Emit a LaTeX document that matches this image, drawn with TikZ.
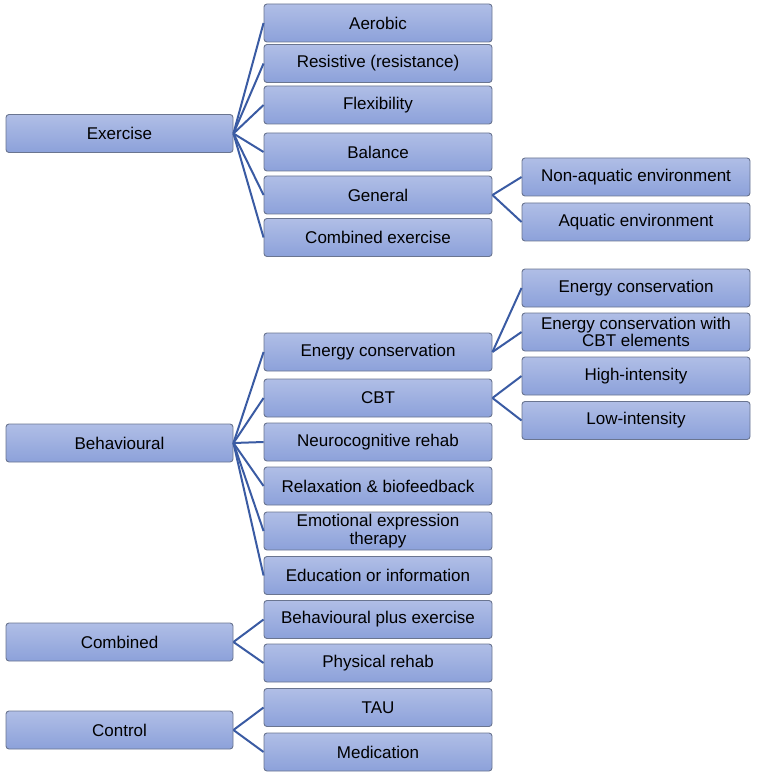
\documentclass[tikz,border=0pt]{standalone}
\usepackage{fontspec}
\setmainfont{Liberation Sans}
\definecolor{boxtop}{HTML}{B0BEE6}
\definecolor{boxbot}{HTML}{8CA1DA}
\definecolor{boxline}{HTML}{6A7590}
\definecolor{connline}{HTML}{3A5BA3}
\tikzset{
  box/.style={draw=boxline, line width=0.9pt, rounded corners=3pt, top color=boxtop, bottom color=boxbot,
    minimum width=228pt, minimum height=38pt, inner sep=0pt, align=center,
    font=\fontsize{17}{17.5}\selectfont, text=black},
  conn/.style={draw=connline, line width=2pt}
}
\begin{document}
\begin{tikzpicture}[x=1pt,y=-1pt]
\useasboundingbox (0,0) rectangle (756,775);
% Exercise
\node[box, minimum width=227pt] (ex) at (119.5,133.5) {Exercise};
\node[box] (aer) at (378,23) {Aerobic};
\node[box] (res) at (378,63.5) {Resistive (resistance)};
\node[box] (flex) at (378,105) {Flexibility};
\node[box] (bal) at (378,152) {Balance};
\node[box] (gen) at (378,195) {General};
\node[box] (comx) at (378,237.5) {Combined exercise};
\node[box] (nonaq) at (636,177) {Non-aquatic environment};
\node[box] (aq) at (636,222) {Aquatic environment};
% Behavioural
\node[box, minimum width=227pt] (beh) at (119.5,443) {Behavioural};
\node[box] (ec) at (378,352) {Energy conservation};
\node[box] (cbt) at (378,398) {CBT};
\node[box] (neuro) at (378,442) {Neurocognitive rehab};
\node[box] (relax) at (378,486) {Relaxation \& biofeedback};
\node[box] (emo) at (378,531) {Emotional expression\\therapy};
\node[box] (edu) at (378,575.5) {Education or information};
\node[box] (ec1) at (636,288) {Energy conservation};
\node[box] (ec2) at (636,332) {Energy conservation with\\CBT elements};
\node[box] (hi) at (636,376) {High-intensity};
\node[box] (lo) at (636,420.5) {Low-intensity};
% Combined
\node[box, minimum width=227pt] (comb) at (119.5,642) {Combined};
\node[box] (bpe) at (378,619.5) {Behavioural plus exercise};
\node[box] (phys) at (378,663) {Physical rehab};
% Control
\node[box, minimum width=227pt] (ctrl) at (119.5,730) {Control};
\node[box] (tau) at (378,707.5) {TAU};
\node[box] (med) at (378,752) {Medication};
% connectors
\foreach \c in {aer,res,flex,bal,gen,comx} \draw[conn] (ex.east) -- (\c.west);
\foreach \c in {nonaq,aq} \draw[conn] (gen.east) -- (\c.west);
\foreach \c in {ec,cbt,neuro,relax,emo,edu} \draw[conn] (beh.east) -- (\c.west);
\foreach \c in {ec1,ec2} \draw[conn] (ec.east) -- (\c.west);
\foreach \c in {hi,lo} \draw[conn] (cbt.east) -- (\c.west);
\foreach \c in {bpe,phys} \draw[conn] (comb.east) -- (\c.west);
\foreach \c in {tau,med} \draw[conn] (ctrl.east) -- (\c.west);
\end{tikzpicture}
\end{document}
